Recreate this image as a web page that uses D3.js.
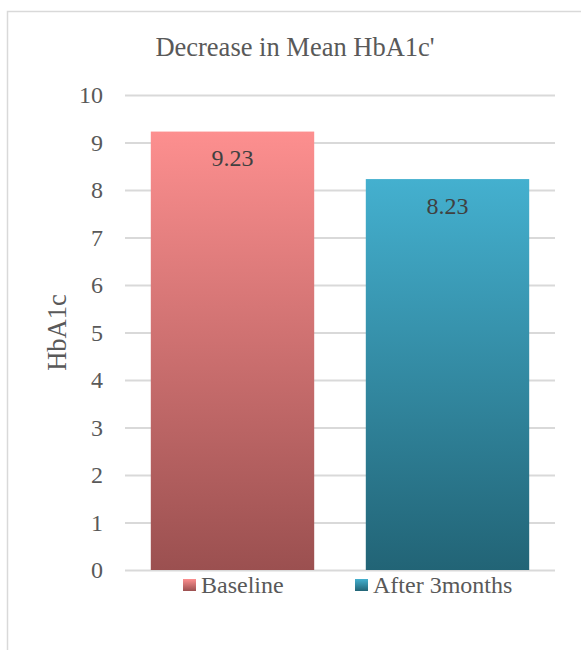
<!DOCTYPE html>
<html>
<head>
<meta charset="utf-8">
<script src="https://d3js.org/d3.v7.min.js"></script>
</head>
<body style="margin:0">
<svg id="chart" width="581" height="650"></svg>
<script>
// data
const categories = ["Baseline", "After 3months"];
const values = [9.23, 8.23];
const yTicks = [0, 1, 2, 3, 4, 5, 6, 7, 8, 9, 10];
const title = "Decrease in Mean HbA1c'";
const yTitle = "HbA1c";

const topColors = ["#fd8f8f", "#44b0cf"];
const bottomColors = ["#9b5050", "#226476"];

const svg = d3.select("svg#chart");
const margins = {top: 95, left: 125, right: 26, bottom: 80};
const chartWidth = 581 - margins.left - margins.right;
const chartHeight = 570 - margins.top;
const textColor = "#595959";
const fontName = "Liberation Serif";

// outer frame
svg.append("rect")
   .attr("x", 7.5).attr("y", 11.5)
   .attr("width", 600).attr("height", 700)
   .attr("fill", "none")
   .attr("stroke", "#d9d9d9")
   .attr("stroke-width", 1.5);

// gradients
const defs = svg.append("defs");
categories.forEach((c, i) => {
    const g = defs.append("linearGradient")
        .attr("id", "grad" + i)
        .attr("x1", 0).attr("y1", 0).attr("x2", 0).attr("y2", 1);
    g.append("stop").attr("offset", "0%").attr("stop-color", topColors[i]);
    g.append("stop").attr("offset", "100%").attr("stop-color", bottomColors[i]);
});

const yScale = d3.scaleLinear().domain([0, 10]).range([chartHeight, 0]);
const xScale = d3.scaleBand().domain(categories).range([0, chartWidth]).paddingInner(0.24).paddingOuter(0.12);

const chartArea = svg.append("g").attr("transform", `translate(${margins.left},${margins.top})`);

// gridlines
const grid = d3.axisLeft(yScale).tickValues(yTicks).tickSize(-chartWidth).tickFormat("");
const gridG = chartArea.append("g").call(grid);
gridG.select(".domain").remove();
gridG.selectAll("line").attr("stroke", "#d9d9d9").attr("stroke-width", 2);

// tick labels
chartArea.selectAll(".ytick")
    .data(yTicks)
    .join("text")
    .attr("class", "ytick")
    .attr("x", -22)
    .attr("y", d => yScale(d) + 8)
    .attr("text-anchor", "end")
    .attr("font-size", 24)
    .attr("fill", textColor)
    .style("font-family", d => `"${fontName}"`)
    .text(d => d);

// bars
chartArea.selectAll(".bar")
    .data(values)
    .join("rect")
    .attr("class", "bar")
    .attr("x", (d, i) => xScale(categories[i]))
    .attr("y", d => yScale(d))
    .attr("width", xScale.bandwidth())
    .attr("height", d => chartHeight - yScale(d))
    .attr("fill", (d, i) => `url(#grad${i})`);

// value labels
chartArea.selectAll(".val")
    .data(values)
    .join("text")
    .attr("class", "val")
    .attr("x", (d, i) => xScale(categories[i]) + xScale.bandwidth() / 2)
    .attr("y", d => yScale(d) + 34.5)
    .attr("text-anchor", "middle")
    .attr("font-size", 24)
    .attr("fill", "#404040")
    .attr("font-family", fontName)
    .text(d => d.toFixed(2));

// title
svg.append("text")
   .attr("x", 295).attr("y", 56)
   .attr("text-anchor", "middle")
   .attr("font-size", 26.5)
   .attr("fill", textColor)
   .style("font-family", `"${fontName}"`)
   .text(title);

// y axis title
svg.append("text")
   .attr("transform", `translate(66,${margins.top + chartHeight / 2}) rotate(-90)`)
   .attr("text-anchor", "middle")
   .attr("font-size", 26.5)
   .attr("fill", textColor)
   .attr("font-family", fontName)
   .text(yTitle);

// legend
const legendX = [183, 355];
const legend = svg.append("g").attr("transform", "translate(0,593)");
categories.forEach((c, i) => {
    legend.append("rect")
        .attr("x", legendX[i]).attr("y", -14)
        .attr("width", 13).attr("height", 12)
        .attr("fill", `url(#grad${i})`);
    legend.append("text")
        .attr("x", legendX[i] + 18).attr("y", 0)
        .attr("font-size", 24)
        .attr("fill", textColor)
        .style("font-family", `"${fontName}"`)
        .text(c);
});
</script>
</body>
</html>
